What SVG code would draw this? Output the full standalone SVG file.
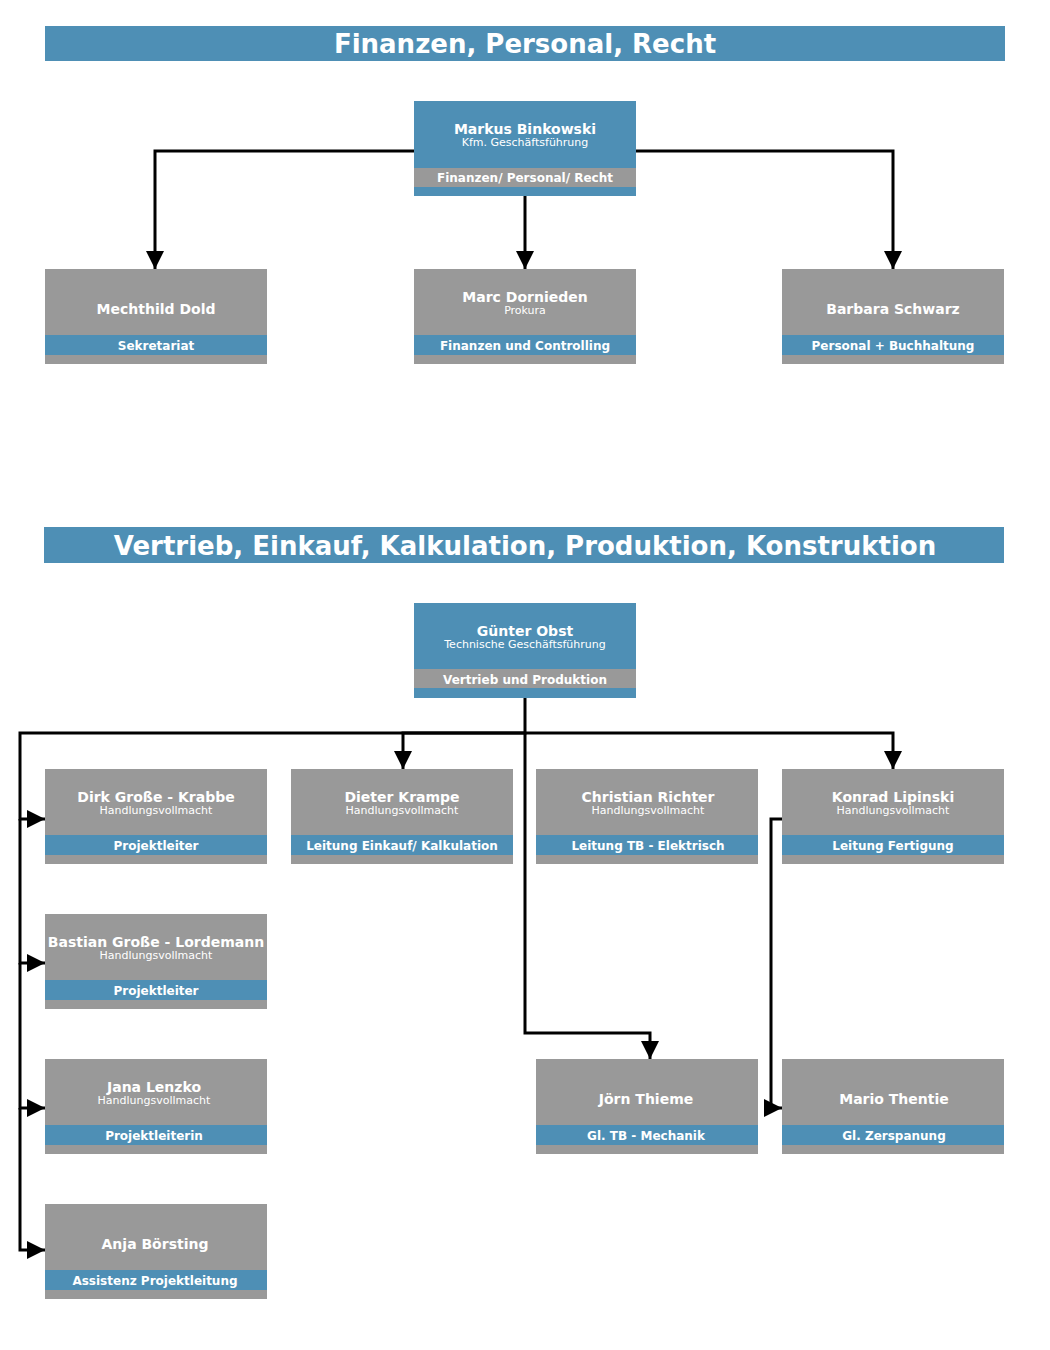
<svg xmlns="http://www.w3.org/2000/svg" width="1050" height="1350" viewBox="0 0 1050 1350">
<style>
text{font-family:"DejaVu Sans",Verdana,sans-serif;fill:#fff;text-anchor:middle}
.h{font-size:26px;font-weight:bold}
.n{font-size:14px;font-weight:bold}
.s{font-size:11px}
.b{font-size:12px;font-weight:bold}
.bl{fill:#4e8fb5}
.gr{fill:#999}
.c{fill:none;stroke:#000;stroke-width:3}
</style>
<defs>
<marker id="a" viewBox="0 0 10 10" refX="9" refY="5" markerWidth="6" markerHeight="6" markerUnits="userSpaceOnUse" orient="auto"><path d="M0,0L10,5L0,10z" fill="#000" transform="scale(1)"/></marker>
<marker id="m" viewBox="0 0 10 10" refX="10" refY="5" markerWidth="18" markerHeight="18" markerUnits="userSpaceOnUse" orient="auto"><path d="M0,0L10,5L0,10z" fill="#000"/></marker>
</defs>
<rect class="bl" x="45" y="26" width="960" height="35"/>
<text class="h" x="525" y="53">Finanzen, Personal, Recht</text>
<rect class="bl" x="44" y="527" width="960" height="36"/>
<text class="h" x="525" y="555">Vertrieb, Einkauf, Kalkulation, Produktion, Konstruktion</text>
<g id="connectors">
<path class="c" d="M414,151H155V269" marker-end="url(#m)"/>
<path class="c" d="M636,151H893V269" marker-end="url(#m)"/>
<path class="c" d="M525,196V269" marker-end="url(#m)"/>
<path class="c" d="M525,698V733H403V769" marker-end="url(#m)"/>
<path class="c" d="M525,733H893V769" marker-end="url(#m)"/>
<path class="c" d="M525,733H20V819H45" marker-end="url(#m)"/>
<path class="c" d="M20,819V963H45" marker-end="url(#m)"/>
<path class="c" d="M20,963V1108H45" marker-end="url(#m)"/>
<path class="c" d="M20,1108V1250H45" marker-end="url(#m)"/>
<path class="c" d="M525,733V1033H650V1059" marker-end="url(#m)"/>
<path class="c" d="M782,819H771V1108H782" marker-end="url(#m)"/>
</g>
<g id="binkowski"><rect class="bl" x="414" y="101" width="222" height="95"/><rect class="gr" x="414" y="168" width="222" height="19"/>
<text class="n" x="525" y="134">Markus Binkowski</text><text class="s" x="525" y="146">Kfm. Geschäftsführung</text><text class="b" x="525" y="182">Finanzen/ Personal/ Recht</text></g>
<g id="dold"><rect class="gr" x="45" y="269" width="222" height="95"/><rect class="bl" x="45" y="335" width="222" height="20"/>
<text class="n" x="156" y="314">Mechthild Dold</text><text class="b" x="156" y="350">Sekretariat</text></g>
<g id="dornieden"><rect class="gr" x="414" y="269" width="222" height="95"/><rect class="bl" x="414" y="335" width="222" height="20"/>
<text class="n" x="525" y="302">Marc Dornieden</text><text class="s" x="525" y="314">Prokura</text><text class="b" x="525" y="350">Finanzen und Controlling</text></g>
<g id="schwarz"><rect class="gr" x="782" y="269" width="222" height="95"/><rect class="bl" x="782" y="335" width="222" height="20"/>
<text class="n" x="893" y="314">Barbara Schwarz</text><text class="b" x="893" y="350">Personal + Buchhaltung</text></g>
<g id="obst"><rect class="bl" x="414" y="603" width="222" height="95"/><rect class="gr" x="414" y="669" width="222" height="19"/>
<text class="n" x="525" y="636">Günter Obst</text><text class="s" x="525" y="648">Technische Geschäftsführung</text><text class="b" x="525" y="684">Vertrieb und Produktion</text></g>
<g id="krabbe"><rect class="gr" x="45" y="769" width="222" height="95"/><rect class="bl" x="45" y="835" width="222" height="20"/>
<text class="n" x="156" y="802">Dirk Große - Krabbe</text><text class="s" x="156" y="814">Handlungsvollmacht</text><text class="b" x="156" y="850">Projektleiter</text></g>
<g id="krampe"><rect class="gr" x="291" y="769" width="222" height="95"/><rect class="bl" x="291" y="835" width="222" height="20"/>
<text class="n" x="402" y="802">Dieter Krampe</text><text class="s" x="402" y="814">Handlungsvollmacht</text><text class="b" x="402" y="850">Leitung Einkauf/ Kalkulation</text></g>
<g id="richter"><rect class="gr" x="536" y="769" width="222" height="95"/><rect class="bl" x="536" y="835" width="222" height="20"/>
<text class="n" x="648" y="802">Christian Richter</text><text class="s" x="648" y="814">Handlungsvollmacht</text><text class="b" x="648" y="850">Leitung TB - Elektrisch</text></g>
<g id="lipinski"><rect class="gr" x="782" y="769" width="222" height="95"/><rect class="bl" x="782" y="835" width="222" height="20"/>
<text class="n" x="893" y="802">Konrad Lipinski</text><text class="s" x="893" y="814">Handlungsvollmacht</text><text class="b" x="893" y="850">Leitung Fertigung</text></g>
<g id="lordemann"><rect class="gr" x="45" y="914" width="222" height="95"/><rect class="bl" x="45" y="980" width="222" height="20"/>
<text class="n" x="156" y="947">Bastian Große - Lordemann</text><text class="s" x="156" y="959">Handlungsvollmacht</text><text class="b" x="156" y="995">Projektleiter</text></g>
<g id="lenzko"><rect class="gr" x="45" y="1059" width="222" height="95"/><rect class="bl" x="45" y="1125" width="222" height="20"/>
<text class="n" x="154" y="1092">Jana Lenzko</text><text class="s" x="154" y="1104">Handlungsvollmacht</text><text class="b" x="154" y="1140">Projektleiterin</text></g>
<g id="thieme"><rect class="gr" x="536" y="1059" width="222" height="95"/><rect class="bl" x="536" y="1125" width="222" height="20"/>
<text class="n" x="646" y="1104">Jörn Thieme</text><text class="b" x="646" y="1140">Gl. TB - Mechanik</text></g>
<g id="thentie"><rect class="gr" x="782" y="1059" width="222" height="95"/><rect class="bl" x="782" y="1125" width="222" height="20"/>
<text class="n" x="894" y="1104">Mario Thentie</text><text class="b" x="894" y="1140">Gl. Zerspanung</text></g>
<g id="boersting"><rect class="gr" x="45" y="1204" width="222" height="95"/><rect class="bl" x="45" y="1270" width="222" height="20"/>
<text class="n" x="155" y="1249">Anja Börsting</text><text class="b" x="155" y="1285">Assistenz Projektleitung</text></g>
</svg>
